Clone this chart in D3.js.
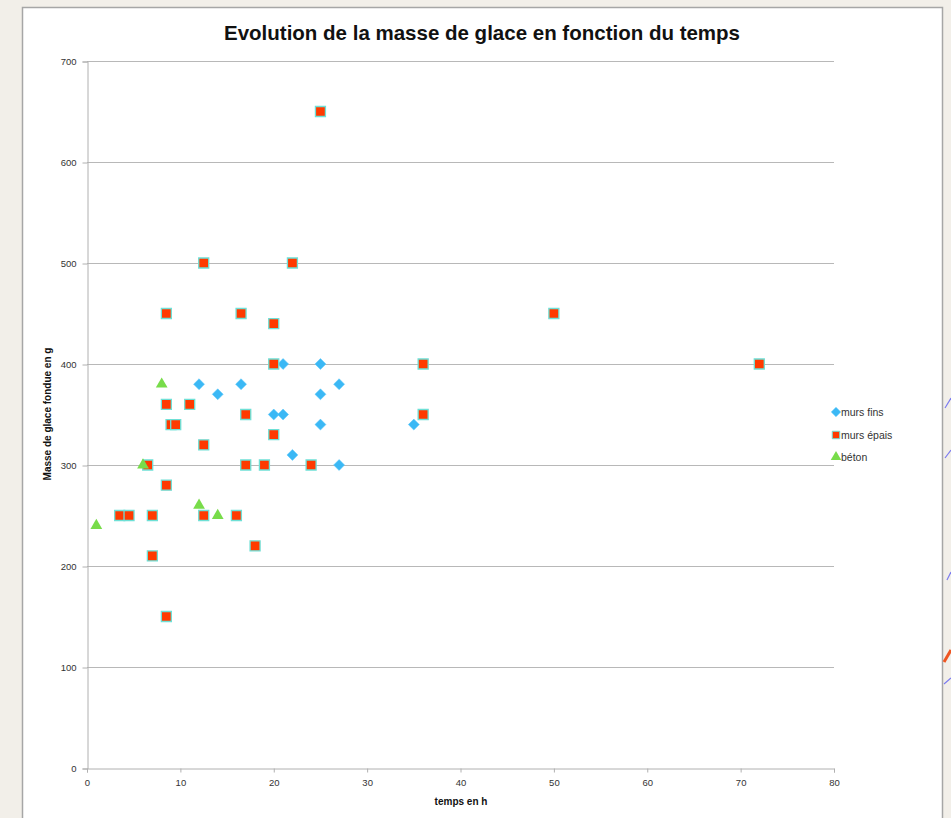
<!DOCTYPE html>
<html>
<head>
<meta charset="utf-8">
<script src="https://cdn.jsdelivr.net/npm/d3@7"></script>
<style>
  body { margin: 0; background: #f2efe9; }
  svg { display: block; }
</style>
</head>
<body>
<svg id="chart"></svg>
<script>
// Data: [temps en h, masse fondue en g]
const mursFins = [
    [12, 380], [14, 370], [16.5, 380], [20, 350], [21, 350], [21, 400], [22, 310],
    [25, 400], [25, 370], [25, 340], [27, 380], [27, 300], [35, 340]
];
const mursEpais = [
    [25, 650], [12.5, 500], [22, 500], [8.5, 450], [16.5, 450], [50, 450], [20, 440],
    [20, 400], [36, 400], [72, 400], [8.5, 360], [11, 360], [17, 350], [36, 350],
    [9, 340], [9.5, 340], [20, 330], [12.5, 320], [6.5, 300], [17, 300], [19, 300],
    [24, 300], [8.5, 280], [3.5, 250], [4.5, 250], [7, 250], [12.5, 250], [16, 250],
    [18, 220], [7, 210], [8.5, 150]
];
const beton = [[1, 240], [6, 300], [8, 380], [12, 260], [14, 250]];

const seriesNames = ["murs fins", "murs épais", "béton"];
const xTicks = [0, 10, 20, 30, 40, 50, 60, 70, 80];
const yTicks = [0, 100, 200, 300, 400, 500, 600, 700];

const width = 951, height = 818;
const margin = { top: 61, right: 117, bottom: 50, left: 87 };

const svg = d3.select("#chart").attr("width", width).attr("height", height);
const font = "'Liberation Sans', Arial, Helvetica, sans-serif";

// white sheet the chart sits on
svg.append("rect")
    .attr("x", 22.5).attr("y", 7.5)
    .attr("width", 920).attr("height", 830)
    .attr("fill", "#fff")
    .attr("stroke", "#a6a6a6")
    .attr("stroke-width", 1.5);

// stray strokes from the page behind, at the right edge
const strokes = [[945, 408, 951, 398, "#7a7af0"], [945, 458, 951, 450, "#7a7af0"],
                 [947, 580, 951, 572, "#7a7af0"], [944, 662, 951, 650, "#ee5522"],
                 [944, 684, 951, 678, "#7a7af0"]];
svg.append("g").selectAll("line").data(strokes).enter().append("line")
    .attr("x1", (d) => d[0]).attr("y1", (d) => d[1])
    .attr("x2", (d) => d[2]).attr("y2", (d) => d[3])
    .attr("stroke", (d) => d[4])
    .attr("stroke-width", (d) => (d[4] === "#ee5522" ? 3 : 1.2));

const x = d3.scaleLinear().domain([0, 80]).range([margin.left, width - margin.right]);
const y = d3.scaleLinear().domain([0, 700]).range([height - margin.bottom, margin.top]);

// horizontal gridlines
svg.append("g")
    .selectAll("line")
    .data(yTicks.slice(1))
    .enter()
    .append("line")
    .attr("x1", x(0)).attr("x2", x(80))
    .attr("y1", (d) => Math.round(y(d)) + 0.5)
    .attr("y2", (d) => Math.round(y(d)) + 0.5)
    .attr("stroke", "#b8b8b8");

// Y axis
const yAxis = svg.append("g")
    .attr("transform", "translate(" + (x(0) + 0.5) + ",0.5)")
    .call(d3.axisLeft(y).tickValues(yTicks).tickSize(5).tickPadding(6));
yAxis.select(".domain").attr("stroke", "#b0b0b0");
yAxis.selectAll("line").attr("stroke", "#b0b0b0");
yAxis.selectAll("text").attr("font-family", font).attr("font-size", "9.5px").attr("fill", "#333");

// X axis
const xAxis = svg.append("g")
    .attr("transform", "translate(0," + (Math.round(y(0)) + 0.5) + ")")
    .call(d3.axisBottom(x).tickValues(xTicks).tickSize(4).tickSizeOuter(4).tickPadding(7));
xAxis.select(".domain").attr("stroke", "#b0b0b0");
xAxis.selectAll("line").attr("stroke", "#b0b0b0");
xAxis.selectAll("text").attr("font-family", font).attr("font-size", "9.5px").attr("fill", "#333");

// title and axis titles
svg.append("text")
    .attr("x", 482).attr("y", 40)
    .attr("text-anchor", "middle")
    .attr("font-family", font).attr("font-weight", "bold").attr("font-size", "20.5px")
    .attr("fill", "#111")
    .text("Evolution de la masse de glace en fonction du temps");

svg.append("text")
    .attr("x", 461).attr("y", 805)
    .attr("text-anchor", "middle")
    .attr("font-family", font).attr("font-weight", "bold").attr("font-size", "10px")
    .attr("fill", "#111")
    .text("temps en h");

svg.append("text")
    .attr("transform", "translate(51,414) rotate(-90)")
    .attr("text-anchor", "middle")
    .attr("font-family", font).attr("font-weight", "bold").attr("font-size", "10px")
    .attr("fill", "#111")
    .text("Masse de glace fondue en g");

// marker shapes
const diamond = d3.symbol().type(d3.symbolSquare).size(60);
const square = d3.symbol().type(d3.symbolSquare).size(100);
const triangle = d3.symbol().type(d3.symbolTriangle).size(60);

function drawDiamonds(g, data, size) {
    g.selectAll("path").data(data).enter().append("path")
        .attr("d", d3.symbol().type(d3.symbolSquare).size(size || 60))
        .attr("transform", (d) => "translate(" + x(d[0]) + "," + y(d[1]) + ") rotate(45)")
        .attr("fill", "#3bb8f5")
        .attr("stroke", "#5cc8fa").attr("stroke-width", 0.5);
}
function drawSquares(g, data, size) {
    g.selectAll("path").data(data).enter().append("path")
        .attr("d", d3.symbol().type(d3.symbolSquare).size(size || 100))
        .attr("transform", (d) => "translate(" + x(d[0]) + "," + y(d[1]) + ")")
        .attr("fill", "#ff3a00")
        .attr("stroke", "#6ee0d6").attr("stroke-width", size ? 1 : 1.3);
}
function drawTriangles(g, data, size) {
    g.selectAll("path").data(data).enter().append("path")
        .attr("d", d3.symbol().type(d3.symbolTriangle).size(size || 60))
        .attr("transform", (d) => "translate(" + x(d[0]) + "," + y(d[1]) + ")")
        .attr("fill", "#78dc4a");
}

drawDiamonds(svg.append("g"), mursFins);
drawSquares(svg.append("g"), mursEpais);
drawTriangles(svg.append("g"), beton);

// legend
const legendY = [412, 435, 457];
const legend = svg.append("g");
const legendAt = (i) => legend.append("g")
    .attr("transform", "translate(" + (836 - x(0)) + "," + (legendY[i] - y(0)) + ")");
drawDiamonds(legendAt(0), [[0, 0]], 45);
drawSquares(legendAt(1), [[0, 0]], 56);
drawTriangles(legendAt(2), [[0, 0]], 48);

legend.selectAll("text")
    .data(seriesNames)
    .enter()
    .append("text")
    .attr("x", 841)
    .attr("y", (d, i) => legendY[i] + 4)
    .attr("font-family", font).attr("font-size", "10.5px")
    .attr("fill", "#333")
    .text((d) => d);
</script>
</body>
</html>
